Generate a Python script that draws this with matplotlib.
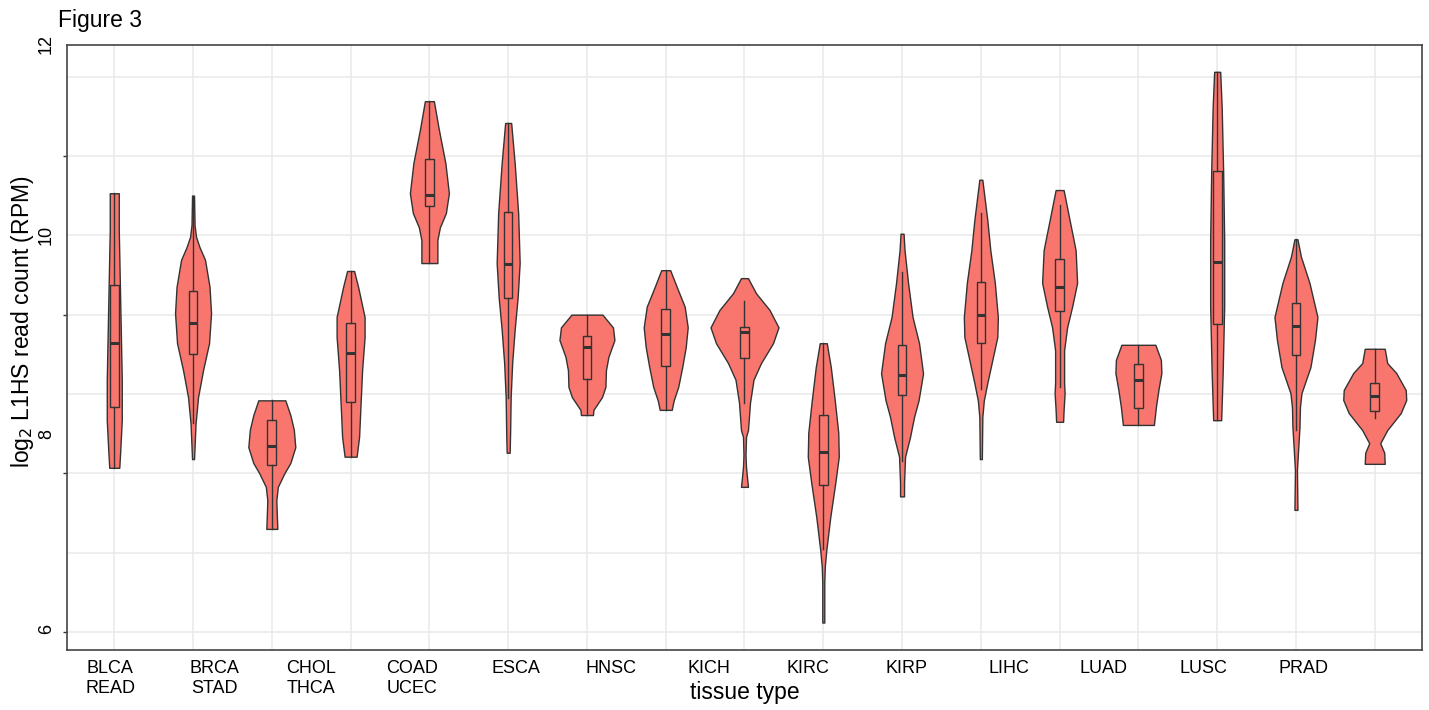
import numpy as np
import matplotlib.pyplot as plt
from matplotlib.ticker import FixedLocator

plt.rcParams['font.family'] = ['Liberation Sans', 'DejaVu Sans']

# ---- data: violin profiles (y levels, relative density) ----
categories = ['BLCA', 'BRCA', 'CHOL', 'COAD', 'ESCA', 'HNSC', 'KICH', 'KIRC', 'KIRP',
              'LIHC', 'LUAD', 'LUSC', 'PRAD', 'READ', 'STAD', 'THCA', 'UCEC']

y_levels = [
    [11.53, 11.07, 10.44, 9.81, 9.18, 8.67, 8.29, 8.07],
    [11.50, 11.13, 10.98, 10.85, 10.69, 10.35, 10.02, 9.64, 9.30, 8.96, 8.63, 8.18],
    [8.92, 8.735, 8.55, 8.33, 8.13, 8.0, 7.83, 7.66, 7.475, 7.30],
    [10.55, 10.35, 9.97, 9.72, 9.30, 8.885, 8.46, 8.21],
    [12.69, 12.33, 11.91, 11.53, 11.28, 11.10, 10.94, 10.65],
    [12.415, 11.91, 11.28, 10.65, 10.22, 9.81, 9.39, 8.96, 8.545, 8.26],
    [10.0, 9.84, 9.68, 9.47, 9.30, 9.09, 8.96, 8.80, 8.735],
    [10.56, 10.35, 10.10, 9.84, 9.59, 9.34, 9.09, 8.92, 8.80],
    [10.46, 10.27, 10.06, 9.84, 9.64, 9.39, 9.18, 8.89, 8.545, 8.46, 8.23, 8.08, 7.95, 7.83],
    [9.64, 9.34, 8.92, 8.51, 8.21, 7.88, 7.45, 7.03, 6.82, 6.62, 6.12],
    [11.02, 10.81, 10.40, 9.97, 9.64, 9.26, 8.92, 8.71, 8.46, 8.21, 7.88, 7.71],
    [11.70, 11.445, 11.19, 10.81, 10.40, 9.97, 9.72, 9.43, 9.14, 8.92, 8.71, 8.18],
    [11.57, 11.38, 11.19, 10.94, 10.81, 10.40, 10.10, 9.84, 9.55, 9.14, 9.01, 8.80, 8.65],
    [9.62, 9.43, 9.265, 9.05, 8.835, 8.61],
    [13.06, 12.62, 11.785, 10.94, 10.10, 9.265, 8.67],
    [10.95, 10.73, 10.40, 9.97, 9.68, 9.34, 9.01, 8.835, 8.58, 8.26, 8.04, 7.54],
    [9.57, 9.39, 9.265, 9.05, 8.925, 8.76, 8.545, 8.38, 8.26, 8.12],
]

density = [
    [9, 9, 11, 13, 15, 15, 12, 10],
    [2, 3, 6, 13, 24, 33, 36, 32, 20, 10, 5, 2],
    [27, 37, 44, 47, 37, 25, 12, 9, 10, 11],
    [7, 15, 28, 28, 23, 20, 17, 12],
    [9, 19, 32, 39, 33, 21, 16, 16],
    [6, 13, 20, 23, 19, 13, 8, 5, 4, 3],
    [31, 52, 55, 43, 38, 37, 30, 13, 12],
    [9, 22, 38, 44, 40, 33, 25, 16, 12],
    [7, 23, 50, 68, 57, 33, 18, 11, 7, 3, 2, 3, 5, 7],
    [7, 15, 23, 30, 31, 24, 14, 6, 3, 2, 2],
    [3, 5, 12, 21, 34, 42, 33, 24, 16, 6, 4, 4],
    [3, 8, 13, 19, 28, 34, 33, 23, 13, 6, 3, 2],
    [8, 14, 20, 28, 32, 35, 25, 15, 9, 9, 10, 8, 7],
    [34, 45, 46, 40, 35, 31],
    [6, 9, 12, 14, 14, 11, 8],
    [3, 10, 27, 43, 38, 29, 11, 8, 7, 4, 2, 3],
    [20, 25, 43, 62, 63, 52, 25, 11, 19, 20],
]

# box plot summaries
whis_hi = [11.53, 11.50, 8.92, 10.55, 12.69, 12.415, 10.0, 10.56, 10.17, 9.64, 10.54, 11.28, 11.38, 9.62, 13.06, 10.95, 9.57]
q3 = [10.37, 10.30, 8.67, 9.895, 11.96, 11.29, 9.73, 10.07, 9.84, 8.735, 9.62, 10.41, 10.70, 9.38, 11.81, 10.15, 9.14]
med = [9.64, 9.90, 8.345, 9.52, 11.51, 10.64, 9.59, 9.76, 9.78, 8.27, 9.24, 9.995, 10.35, 9.18, 10.665, 9.86, 8.975]
q1 = [8.84, 9.50, 8.105, 8.90, 11.37, 10.21, 9.19, 9.35, 9.45, 7.85, 8.99, 9.64, 10.05, 8.82, 9.88, 9.49, 8.785]
whis_lo = [8.07, 8.63, 7.30, 8.21, 10.65, 8.95, 8.735, 8.80, 8.89, 7.05, 8.16, 9.06, 9.09, 8.61, 8.67, 8.55, 8.70]

# tick labels as printed on the figure
xtick_labels = ['BLCA\nREAD', 'BRCA\nSTAD', 'CHOL\nTHCA', 'COAD\nUCEC', 'ESCA', 'HNSC', 'KICH',
                'KIRC', 'KIRP', 'LIHC', 'LUAD', 'LUSC', 'PRAD']
xtick_pos = [0.95, 2.27, 3.50, 4.78, 6.10, 7.31, 8.55, 9.81, 11.06, 12.36, 13.56, 14.82, 16.09]
ytick_labels = ['6', '8', '10', '12']
ytick_label_pos = [6.04, 8.5, 11.0, 13.41]

# ---- figure ----
fill = '#F8766D'
edge = '#333333'
fig = plt.figure(figsize=(14.29, 7.10), dpi=100)
ax = fig.add_axes([67 / 1429, 60 / 710, 1355 / 1429, 605 / 710])

positions = np.arange(1, len(categories) + 1)
vpstats = []
for yl, d in zip(y_levels, density):
    yl = np.array(yl)
    vpstats.append(dict(coords=yl, vals=np.array(d, float), mean=yl.mean(),
                        median=np.median(yl), min=yl.min(), max=yl.max()))
# common scale for all violins (area-like scaling)
scale = 1 / 78.8
vwidths = [max(d) * scale for d in density]
parts = ax.violin(vpstats, positions=positions, widths=vwidths,
                  showmeans=False, showextrema=False, showmedians=False)
for b in parts['bodies']:
    b.set_facecolor(fill)
    b.set_edgecolor(edge)
    b.set_linewidth(1.0)
    b.set_alpha(1)
    b.set_zorder(2)

stats = [dict(whishi=a, q3=b, med=c, q1=d, whislo=e, fliers=[])
         for a, b, c, d, e in zip(whis_hi, q3, med, q1, whis_lo)]
ax.bxp(stats, positions=positions, widths=0.11, showfliers=False, showcaps=False,
       patch_artist=True, manage_ticks=False,
       boxprops=dict(facecolor=fill, edgecolor=edge, linewidth=1.0),
       medianprops=dict(color=edge, linewidth=2.2),
       whiskerprops=dict(color=edge, linewidth=1.0), zorder=3)

ax.set_xlim(0.4, 17.6)
ax.set_ylim(5.774, 13.398)

# x axis: gridlines at each violin, labels where printed
ax.xaxis.set_minor_locator(FixedLocator(positions))
ax.set_xticks(xtick_pos)
ax.set_xticklabels(xtick_labels, fontsize=13, linespacing=1.25)
ax.tick_params(axis='x', which='both', length=0, pad=7)

# y axis: ticks at 6..12, labels drawn where printed
ax.set_yticks([6, 8, 10, 12])
ax.set_yticklabels([])
ax.yaxis.set_minor_locator(FixedLocator([7, 9, 11, 13]))
ax.tick_params(axis='y', which='major', length=3, width=1, color=edge)
ax.tick_params(axis='y', which='minor', length=0)
for lab, yv in zip(ytick_labels, ytick_label_pos):
    ax.text(-0.0151, yv, lab, transform=ax.get_yaxis_transform(), rotation=90,
            ha='center', va='center', fontsize=13, clip_on=False)

ax.grid(True, which='major', axis='y', color='#EBEBEB', linewidth=1.2, zorder=0)
ax.grid(True, which='minor', axis='both', color='#EBEBEB', linewidth=1.2, zorder=0)
ax.set_axisbelow(True)

for s in ax.spines.values():
    s.set_color('#444444')
    s.set_linewidth(1.2)

ax.set_xlabel('tissue type', fontsize=16.5, va='center')
ax.xaxis.set_label_coords(0.5, -0.071)
ax.set_ylabel(r'log$_2$ L1HS read count (RPM)', fontsize=16.5, va='center')
ax.yaxis.set_label_coords(-0.0325, 0.543)

fig.text(58 / 1429, 1 - 27 / 710, 'Figure 3', fontsize=16.5, ha='left', va='baseline')

fig.savefig('out.png', dpi=100)
